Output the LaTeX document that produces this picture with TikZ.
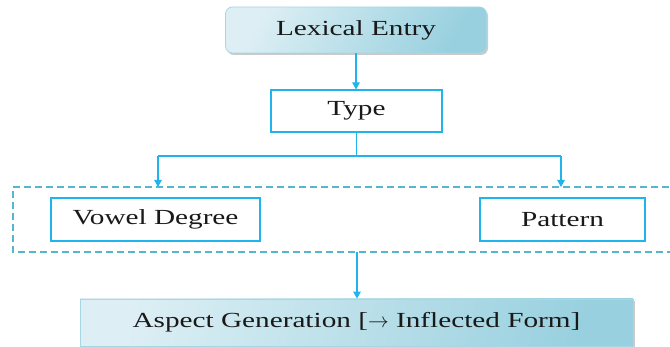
\documentclass[tikz,border=0pt]{standalone}
\usepackage{fontspec}
\setmainfont{Liberation Serif}
\newfontfamily\widefont[FakeStretch=1.36]{Liberation Serif}
\usetikzlibrary{arrows.meta,shadows}
\definecolor{conn}{HTML}{1FB4EC}
\definecolor{dashc}{HTML}{55B6CE}
\definecolor{lightb}{HTML}{DDEFF4}
\definecolor{darkb}{HTML}{98D0DF}
\begin{document}
\begin{tikzpicture}[x=1pt,y=-1pt,
  grad/.style={draw=darkb!85!white, line width=0.8pt, shading=axis, left color=lightb, right color=darkb, shading angle=60,
    drop shadow={shadow xshift=1.5pt, shadow yshift=-2pt, fill=black!35, opacity=0.6}},
  plain/.style={draw=conn, line width=1.1pt, fill=white},
  conarrow/.style={draw=conn, line width=1.1pt, -{Triangle[length=7pt,width=7.5pt]}},
  conline/.style={draw=conn, line width=1.1pt},
  txt/.style={font=\widefont\fontsize{21.5}{24}\selectfont, text=black!90}]
\useasboundingbox (0,0) rectangle (670,347);
% Lexical Entry
\node[grad, rounded corners=7pt, minimum width=261pt, minimum height=46pt, txt] (lex) at (356,30) {Lexical Entry};
% Type
\node[plain, minimum width=171pt, minimum height=42pt, txt] (type) at (356.5,111) {Type};
% dashed container
\draw[dashc, line width=1.2pt, dash pattern=on 7pt off 4pt] (680,187) -- (13,187) -- (13,252) -- (680,252);
\coordinate (dtopL) at (158,187);
\coordinate (dtopR) at (561,187);
\coordinate (dbot) at (357,252);
% Vowel degree & pattern
\node[plain, minimum width=209pt, minimum height=43pt, txt] (vowel) at (155.5,219.5) {Vowel Degree};
\node[plain, minimum width=165pt, minimum height=43pt, txt] (pat) at (562.5,219.5) {Pattern};
% Aspect generation
\node[grad, minimum width=553pt, minimum height=47pt, txt, shading angle=75] (asp) at (356.5,322.5) {Aspect Generation [\(\rightarrow\) Inflected Form]};
% connectors
\draw[conarrow] (lex.south) -- (lex.south |- type.north);
\coordinate (split) at (type.south |- 0,156);
\draw[conline] (type.south) -- (split);
\draw[conline] (dtopL |- split) -- (dtopR |- split);
\draw[conarrow] (dtopL |- split) -- (dtopL);
\draw[conarrow] (dtopR |- split) -- (dtopR);
\draw[conarrow] (dbot) -- (asp.north -| dbot);
\end{tikzpicture}
\end{document}
